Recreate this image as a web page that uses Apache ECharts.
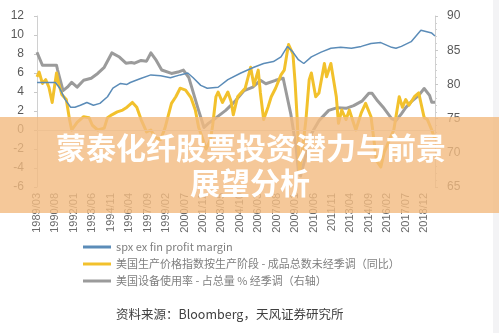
<!DOCTYPE html>
<html><head><meta charset="utf-8">
<script src="https://cdn.jsdelivr.net/npm/echarts@6/dist/echarts.min.js"></script>
<style>html,body{margin:0;padding:0;background:#fff}#c{width:499px;height:333px}</style>
</head><body><div id="c"></div>
<script>
// Category months 1989/03 .. 2019/10
const startYear = 1989, startMonth = 3, endYear = 2019, endMonth = 10;
const months = [];
for (let y = startYear, m = startMonth; y < endYear || (y === endYear && m <= endMonth); ) {
  months.push(y + '/' + (m < 10 ? '0' + m : m));
  m++; if (m > 12) { m = 1; y++; }
}
const leftTicks = [-6, 12, 2];   // min, max, interval
const rightTicks = [65, 90, 5];

const seriesNames = [
  'spx ex fin profit margin',
  '美国生产价格指数按生产阶段 - 成品总数未经季调（同比）',
  '美国设备使用率 - 占总量 % 经季调（右轴）'
];

const profitMargin = [
  ['1989/03',5.0],['1990/08',5.0],['1990/12',4.4],['1991/05',3.2],['1991/10',2.4],['1992/02',2.4],
  ['1992/07',2.6],['1993/01',2.9],['1993/07',2.6],['1994/01',2.8],['1994/08',3.5],['1995/01',4.4],
  ['1995/08',4.9],['1996/02',4.8],['1996/05',5.0],['1997/02',5.4],['1997/12',5.8],['1998/09',5.7],
  ['1999/06',5.5],['2000/03',5.8],['2000/10',6.0],['2001/03',5.5],['2001/10',4.7],['2002/04',4.4],
  ['2003/02',4.5],['2003/11',5.3],['2004/11',6.0],['2005/11',6.6],['2006/08',7.0],['2007/05',7.2],
  ['2007/12',7.7],['2008/06',8.8],['2008/11',8.2],['2009/04',7.4],['2009/09',7.0],['2010/04',7.7],
  ['2011/01',8.2],['2011/10',8.6],['2012/07',8.7],['2013/05',8.6],['2014/02',8.8],['2014/11',9.1],
  ['2015/08',9.2],['2016/06',8.7],['2016/10',8.6],['2017/03',8.8],['2017/12',9.3],['2018/09',10.5],
  ['2019/07',10.2],['2019/10',9.9]
];

const ppiYoY = [
  ['1989/03',5.6],['1989/05',6.1],['1989/08',4.9],['1989/11',5.3],['1990/02',4.5],['1990/05',2.9],
  ['1990/09',6.0],['1990/11',4.9],['1991/02',3.7],['1991/06',3.2],['1991/09',1.1],['1991/11',0.0],
  ['1992/04',0.8],['1992/10',1.4],['1993/03',1.3],['1993/06',0.5],['1993/11',0.0],['1994/05',0.2],
  ['1994/08',1.3],['1994/12',1.6],['1995/05',1.9],['1995/10',2.1],['1996/02',2.4],['1996/07',2.9],
  ['1996/11',2.4],['1997/03',1.1],['1997/08',-0.2],['1997/12',0.0],['1998/04',-0.8],['1998/09',-1.0],
  ['1999/01',0.2],['1999/07',2.8],['1999/11',3.5],['2000/03',4.4],['2000/08',4.2],['2001/01',3.4],
  ['2001/05',2.1],['2001/08',0.3],['2001/12',-1.0],['2002/03',-2.0],['2002/07',-1.0],['2002/09',0.5],
  ['2002/12',3.5],['2003/02',4.0],['2003/06',2.9],['2003/11',4.0],['2004/02',3.0],['2004/04',1.6],
  ['2004/08',3.5],['2004/11',3.9],['2005/03',4.4],['2005/08',6.6],['2005/11',4.7],['2006/03',6.3],
  ['2006/05',3.9],['2006/08',1.1],['2006/12',2.4],['2007/03',3.5],['2007/07',4.4],['2007/12',5.8],
  ['2008/03',6.3],['2008/06',8.4],['2008/07',9.0],['2008/11',8.0],['2009/01',5.0],['2009/03',1.0],
  ['2009/05',-4.5],['2009/07',-2.8],['2009/11',1.1],['2010/02',5.3],['2010/04',6.0],['2010/08',3.5],
  ['2010/11',3.9],['2011/04',7.0],['2011/06',5.6],['2011/10',7.0],['2012/03',3.5],['2012/05',0.7],
  ['2012/08',2.1],['2012/12',1.1],['2013/03',2.1],['2013/05',1.4],['2013/09',0.0],['2014/02',1.8],
  ['2014/06',2.8],['2014/11',1.4],['2015/04',-3.2],['2015/08',-3.9],['2015/11',-2.4],['2016/04',-1.0],
  ['2016/08',0.0],['2017/01',3.5],['2017/04',2.4],['2017/07',3.2],['2017/10',2.6],['2018/03',3.5],
  ['2018/07',3.9],['2018/12',1.3],['2019/03',1.1],['2019/07',0.0],['2019/10',-1.0]
];

const capacityUtil = [
  ['1989/03',84.7],['1989/08',82.8],['1990/09',82.8],['1990/10',82.1],['1991/03',79.1],['1991/07',79.6],
  ['1991/11',80.3],['1992/04',79.6],['1992/10',80.6],['1993/05',80.9],['1993/11',81.6],['1994/05',82.5],
  ['1994/12',84.6],['1995/07',84.0],['1996/01',83.1],['1996/06',83.2],['1996/09',83.1],['1997/03',83.5],
  ['1997/08',83.4],['1997/12',84.6],['1998/05',83.5],['1998/10',82.1],['1999/07',81.6],['2000/01',81.8],
  ['2000/06',82.1],['2000/11',81.0],['2001/08',76.2],['2002/01',73.7],['2002/05',74.3],['2002/12',75.1],
  ['2003/09',76.2],['2004/06',77.6],['2005/02',79.1],['2005/10',79.6],['2006/05',80.6],['2006/10',80.1],
  ['2007/07',80.6],['2008/02',80.9],['2008/04',79.4],['2008/09',75.7],['2009/02',70.7],['2009/04',67.4],
  ['2009/06',66.6],['2010/04',72.8],['2010/11',74.7],['2011/08',76.2],['2012/04',76.6],['2012/12',76.5],
  ['2013/07',76.9],['2014/03',77.6],['2014/09',78.7],['2014/12',78.7],['2015/05',77.6],['2015/11',76.5],
  ['2016/06',75.0],['2016/10',74.7],['2017/03',75.7],['2017/07',76.6],['2018/01',77.6],['2018/07',78.4],
  ['2018/12',79.4],['2019/05',78.4],['2019/07',77.4],['2019/10',77.4]
];

const titleLines = ['蒙泰化纤股票投资潜力与前景', '展望分析'];
const sourceText = '资料来源：Bloomberg，天风证券研究所';

const FONT = 'Noto Sans CJK SC';
const chart = echarts.init(document.getElementById('c'), null, {renderer: 'canvas'});
chart.setOption({
  animation: false,
  backgroundColor: '#ffffff',
  textStyle: {fontFamily: FONT},
  grid: {left: 37, right: 64, top: 16, bottom: 146, containLabel: false},
  legend: {
    orient: 'vertical', left: 78, top: 235, itemWidth: 28, itemHeight: 3, itemGap: 3,
    textStyle: {color: '#7f7f7f', fontSize: 11, fontFamily: FONT, lineHeight: 14},
    data: [
      {name: seriesNames[0], icon: 'rect'},
      {name: seriesNames[1], icon: 'rect'},
      {name: seriesNames[2], icon: 'rect'}
    ]
  },
  xAxis: {
    type: 'category', data: months, boundaryGap: false,
    axisLine: {show: false}, axisTick: {show: false},
    axisLabel: {interval: 16, rotate: 90, color: '#6a6a6a', fontSize: 11, margin: 6, fontFamily: 'Liberation Sans'}
  },
  yAxis: [
    {type: 'value', min: leftTicks[0], max: leftTicks[1], interval: leftTicks[2],
     axisLine: {show: true, lineStyle: {color: '#d0d0d0'}},
     axisTick: {show: true, length: 3, lineStyle: {color: '#c8c8c8'}},
     splitLine: {show: false},
     axisLabel: {color: '#595959', fontSize: 12, margin: 13, fontFamily: 'Liberation Sans'}},
    {type: 'value', min: rightTicks[0], max: rightTicks[1], interval: rightTicks[2], position: 'right',
     axisLine: {show: true, lineStyle: {color: '#d0d0d0'}},
     axisTick: {show: true, length: 3, lineStyle: {color: '#c8c8c8'}},
     minorTick: {show: true, splitNumber: 5, length: 2, lineStyle: {color: '#d0d0d0'}},
     splitLine: {show: false},
     axisLabel: {color: '#595959', fontSize: 12, margin: 12, fontFamily: 'Liberation Sans'}}
  ],
  series: [
    {name: seriesNames[2], type: 'line', yAxisIndex: 1, data: capacityUtil, symbol: 'none',
     lineStyle: {color: '#9b9b9b', width: 3, join: 'round'}, itemStyle: {color: '#9b9b9b'}, z: 2},
    {name: seriesNames[1], type: 'line', yAxisIndex: 0, data: ppiYoY, symbol: 'none',
     lineStyle: {color: '#f2c12c', width: 3, join: 'round'}, itemStyle: {color: '#f2c12c'}, z: 3},
    {name: seriesNames[0], type: 'line', yAxisIndex: 0, data: profitMargin, symbol: 'none',
     lineStyle: {color: '#5b8cb8', width: 1.5}, itemStyle: {color: '#5b8cb8'}, z: 4,
     markLine: {silent: true, symbol: 'none', label: {show: false},
       lineStyle: {color: '#d9d9d9', width: 1, type: 'solid'}, data: [{yAxis: 0}]}}
  ],
  graphic: [
    {type: 'rect', left: 493, top: 0, shape: {width: 6, height: 333}, style: {fill: '#f3f3f5'}, z: 1},
    {type: 'rect', left: 0, top: 117, shape: {width: 499, height: 96}, style: {fill: 'rgba(242,186,128,0.8)'}, z: 100},
    {type: 'text', x: 251, y: 148, z: 101, style: {text: titleLines[0], fill: '#ffffff', font: 'bold 30px "Noto Sans CJK SC"',
      textAlign: 'center', textVerticalAlign: 'middle', shadowColor: 'rgba(150,90,30,0.35)', shadowBlur: 3, shadowOffsetX: 1, shadowOffsetY: 1}},
    {type: 'text', x: 250, y: 183, z: 101, style: {text: titleLines[1], fill: '#ffffff', font: 'bold 30px "Noto Sans CJK SC"',
      textAlign: 'center', textVerticalAlign: 'middle', shadowColor: 'rgba(150,90,30,0.35)', shadowBlur: 3, shadowOffsetX: 1, shadowOffsetY: 1}},
    {type: 'text', x: 116, y: 314, z: 101, style: {text: sourceText, fill: '#404040', font: '12.5px "Noto Sans CJK SC"',
      textAlign: 'left', textVerticalAlign: 'middle'}}
  ]
});
</script></body></html>
